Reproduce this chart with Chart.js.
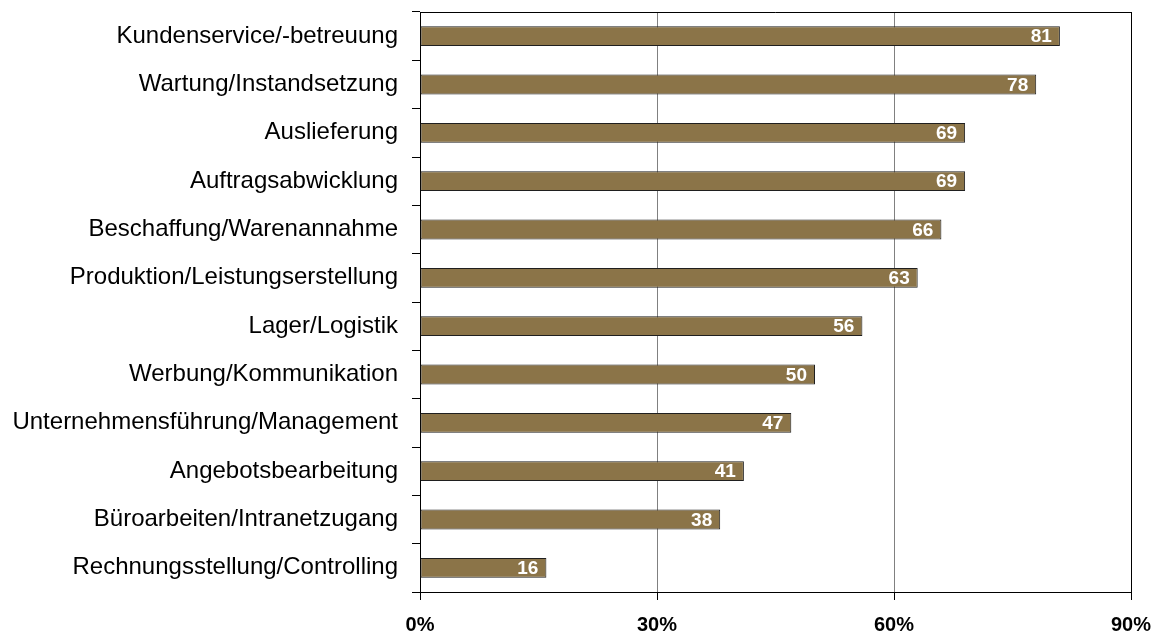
<!DOCTYPE html>
<html>
<head>
<meta charset="utf-8">
<script src="https://cdn.jsdelivr.net/npm/chart.js@4/dist/chart.umd.min.js"></script>
<style>
html,body{margin:0;padding:0;background:#fff;}
#wrap{width:1162px;height:632px;position:relative;}
</style>
</head>
<body>
<div id="wrap"><canvas id="c" width="1162" height="632"></canvas></div>
<script>
const categories = [
  "Kundenservice/-betreuung",
  "Wartung/Instandsetzung",
  "Auslieferung",
  "Auftragsabwicklung",
  "Beschaffung/Warenannahme",
  "Produktion/Leistungserstellung",
  "Lager/Logistik",
  "Werbung/Kommunikation",
  "Unternehmensführung/Management",
  "Angebotsbearbeitung",
  "Büroarbeiten/Intranetzugang",
  "Rechnungsstellung/Controlling"
];
const values = [81, 78, 69, 69, 66, 63, 56, 50, 47, 41, 38, 16];
const xTicks = [0, 30, 60, 90];

const FONT = "'Liberation Sans', Arial, sans-serif";

const frame = {
  id: 'frame',
  afterDatasetsDraw(chart) {
    const a = chart.chartArea, ctx = chart.ctx;
    ctx.save();
    ctx.strokeStyle = '#000';
    ctx.lineWidth = 1;
    ctx.beginPath();
    ctx.moveTo(a.left, a.top + 0.5);
    ctx.lineTo(a.right + 0.5, a.top + 0.5);
    ctx.lineTo(a.right + 0.5, a.bottom);
    ctx.stroke();
    ctx.restore();
  }
};

const labels = {
  id: 'valueLabels',
  afterDatasetsDraw(chart) {
    const ctx = chart.ctx;
    const meta = chart.getDatasetMeta(0);
    ctx.save();
    ctx.font = "bold 19px " + FONT;
    ctx.fillStyle = '#fff';
    ctx.textAlign = 'right';
    ctx.textBaseline = 'middle';
    meta.data.forEach((el, i) => {
      ctx.fillText(String(values[i]), el.x - 8, el.y + 1);
    });
    ctx.restore();
  }
};

new Chart(document.getElementById('c'), {
  type: 'bar',
  data: {
    labels: categories,
    datasets: [{
      data: values,
      backgroundColor: '#8B7448',
      borderColor: '#1f1f1f',
      borderWidth: 1,
      borderSkipped: false,
      barPercentage: 0.41,
      categoryPercentage: 1.0
    }]
  },
  options: {
    indexAxis: 'y',
    responsive: false,
    animation: false,
    events: [],
    layout: { padding: { top: 12, right: 31, left: 0, bottom: 0 } },
    plugins: { legend: { display: false }, tooltip: { enabled: false } },
    scales: {
      x: {
        min: 0, max: 90,
        afterBuildTicks(scale) { scale.ticks = xTicks.map(v => ({ value: v })); },
        afterFit(scale) { scale.height = 40; scale.paddingLeft = 0; scale.paddingRight = 0; },
        ticks: {
          callback: v => v + '%',
          color: '#000',
          padding: 13,
          font: { family: FONT, size: 20, weight: 'bold' }
        },
        grid: {
          color: ctx => (ctx.tick && (ctx.tick.value === 0 || ctx.tick.value === 90)) ? '#000' : '#808080',
          tickColor: '#000',
          tickLength: 8,
          lineWidth: 1
        },
        border: { display: true, color: '#000', width: 1 }
      },
      y: {
        afterFit(scale) { scale.width = 420; scale.paddingTop = 0; scale.paddingBottom = 0; },
        ticks: {
          color: '#000',
          padding: 14,
          font: { family: FONT, size: 24 }
        },
        grid: {
          offset: true,
          drawOnChartArea: false,
          color: '#000',
          tickColor: '#000',
          tickLength: 8
        },
        border: { display: true, color: '#000', width: 1 }
      }
    }
  },
  plugins: [frame, labels]
});
</script>
</body>
</html>
